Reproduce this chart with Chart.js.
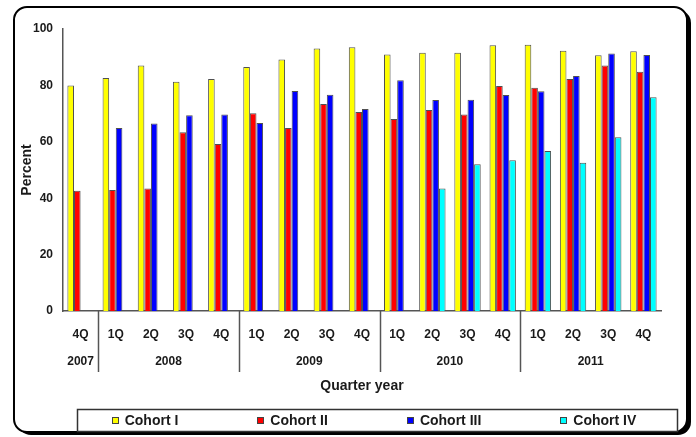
<!DOCTYPE html>
<html>
<head>
<meta charset="utf-8">
<script src="https://cdn.jsdelivr.net/npm/chart.js@4/dist/chart.umd.min.js"></script>
<style>
  html, body { margin: 0; padding: 0; background: #ffffff; }
  #wrap { width: 696px; height: 437px; }
</style>
</head>
<body>
<div id="wrap"><canvas id="c" width="696" height="437"></canvas></div>
<script>
// Quarter labels on the first axis row, year groups on the second row
const quarters = ['4Q', '1Q', '2Q', '3Q', '4Q', '1Q', '2Q', '3Q', '4Q', '1Q', '2Q', '3Q', '4Q', '1Q', '2Q', '3Q', '4Q'];
const years = ['2007', '2008', '2009', '2010', '2011'];
const yearSpans = [1, 4, 4, 4, 4];

// Percent per cohort and quarter
const cohortI   = [80.0, 82.6, 87.1, 81.3, 82.3, 86.5, 89.2, 93.1, 93.5, 91.0, 91.6, 91.6, 94.2, 94.4, 92.3, 90.7, 92.1];
const cohortII  = [42.6, 42.9, 43.4, 63.4, 59.2, 70.1, 64.9, 73.4, 70.6, 68.1, 71.3, 69.7, 79.8, 79.2, 82.3, 87.1, 84.8];
const cohortIII = [null, 64.9, 66.5, 69.4, 69.7, 66.7, 78.0, 76.7, 71.6, 81.8, 74.8, 74.9, 76.6, 77.9, 83.3, 91.3, 90.8];
const cohortIV  = [null, null, null, null, null, null, null, null, null, null, 43.4, 52.0, 53.5, 56.7, 52.6, 61.6, 75.8];

const yTicks = [0, 20, 40, 60, 80, 100];

const FONT = "'Liberation Sans', Arial, sans-serif";
const AXIS_COLOR = '#555555';
const TEXT_COLOR = '#1a1a1a';

function roundRect(ctx, x, y, w, h, r) {
  ctx.beginPath();
  ctx.moveTo(x + r, y);
  ctx.lineTo(x + w - r, y);
  ctx.arcTo(x + w, y, x + w, y + r, r);
  ctx.lineTo(x + w, y + h - r);
  ctx.arcTo(x + w, y + h, x + w - r, y + h, r);
  ctx.lineTo(x + r, y + h);
  ctx.arcTo(x, y + h, x, y + h - r, r);
  ctx.lineTo(x, y + r);
  ctx.arcTo(x, y, x + r, y, r);
  ctx.closePath();
}

// Rounded frame with a dark drop edge, drawn under everything
const framePlugin = {
  id: 'frame',
  beforeDraw(chart) {
    const ctx = chart.ctx;
    ctx.save();
    ctx.fillStyle = '#ffffff';
    ctx.fillRect(0, 0, chart.width, chart.height);
    roundRect(ctx, 18, 10, 673, 425, 13);
    ctx.fillStyle = '#000000';
    ctx.fill();
    roundRect(ctx, 14, 7, 673, 425, 13);
    ctx.fillStyle = '#ffffff';
    ctx.fill();
    ctx.lineWidth = 2;
    ctx.strokeStyle = '#000000';
    ctx.stroke();
    ctx.restore();
  }
};

// Year groups, separators, axis titles and the boxed legend
const decorPlugin = {
  id: 'decor',
  afterDraw(chart) {
    const ctx = chart.ctx;
    const xs = chart.scales.x;
    const area = chart.chartArea;
    const step = xs.getPixelForValue(1) - xs.getPixelForValue(0);
    ctx.save();

    // separators between years and year labels
    ctx.strokeStyle = AXIS_COLOR;
    ctx.lineWidth = 1.5;
    ctx.fillStyle = TEXT_COLOR;
    ctx.font = 'bold 12px ' + FONT;
    ctx.textAlign = 'center';
    ctx.textBaseline = 'middle';
    let start = 0;
    years.forEach((yr, i) => {
      const span = yearSpans[i];
      const first = xs.getPixelForValue(start);
      const last = xs.getPixelForValue(start + span - 1);
      ctx.fillText(yr, (first + last) / 2, 362);
      if (i > 0) {
        const sx = Math.round(first - step / 2) + 0.5;
        ctx.beginPath();
        ctx.moveTo(sx, area.bottom);
        ctx.lineTo(sx, 372);
        ctx.stroke();
      }
      start += span;
    });

    // axis titles
    ctx.font = 'bold 14px ' + FONT;
    ctx.fillText('Quarter year', (area.left + area.right) / 2, 386);
    ctx.save();
    ctx.translate(27, (area.top + area.bottom) / 2);
    ctx.rotate(-Math.PI / 2);
    ctx.fillText('Percent', 0, 0);
    ctx.restore();

    // legend box
    const box = { x: 77.5, y: 409.5, w: 600, h: 22 };
    ctx.fillStyle = '#ffffff';
    ctx.fillRect(box.x, box.y, box.w, box.h);
    ctx.strokeStyle = '#333333';
    ctx.lineWidth = 1.5;
    ctx.strokeRect(box.x, box.y, box.w, box.h);

    ctx.font = 'bold 14px ' + FONT;
    ctx.textAlign = 'left';
    const sq = 7, gapText = 6, gapItem = 79;
    const items = chart.data.datasets.map(ds => ({
      label: ds.label,
      color: ds.backgroundColor,
      w: sq + gapText + ctx.measureText(ds.label).width
    }));
    const total = items.reduce((s, it) => s + it.w, 0) + gapItem * (items.length - 1);
    let x = 374 - total / 2;
    const cy = 420.5;
    items.forEach(it => {
      ctx.fillStyle = it.color;
      ctx.fillRect(Math.round(x), Math.round(cy - sq / 2), sq, sq);
      ctx.strokeStyle = '#444444';
      ctx.lineWidth = 1;
      ctx.strokeRect(Math.round(x) + 0.5, Math.round(cy - sq / 2) + 0.5, sq - 1, sq - 1);
      ctx.fillStyle = TEXT_COLOR;
      ctx.fillText(it.label, x + sq + gapText, cy + 0.5);
      x += it.w + gapItem;
    });

    ctx.restore();
  }
};

const barStyle = {
  borderColor: '#505050',
  borderWidth: 1,
  categoryPercentage: 0.75,
  barPercentage: 1.0
};

new Chart(document.getElementById('c'), {
  type: 'bar',
  data: {
    labels: quarters,
    datasets: [
      Object.assign({ label: 'Cohort I',   data: cohortI,   backgroundColor: '#ffff00' }, barStyle),
      Object.assign({ label: 'Cohort II',  data: cohortII,  backgroundColor: '#ff0000' }, barStyle),
      Object.assign({ label: 'Cohort III', data: cohortIII, backgroundColor: '#0000ff' }, barStyle),
      Object.assign({ label: 'Cohort IV',  data: cohortIV,  backgroundColor: '#00ffff' }, barStyle)
    ]
  },
  options: {
    responsive: false,
    animation: false,
    devicePixelRatio: 1,
    layout: { padding: { top: 29, right: 35, bottom: 0, left: 0 } },
    plugins: {
      legend: { display: false },
      tooltip: { enabled: false },
      title: { display: false }
    },
    scales: {
      x: {
        grid: { display: false, drawTicks: false },
        border: { display: true, color: AXIS_COLOR, width: 1.5 },
        ticks: {
          autoSkip: false,
          maxRotation: 0,
          padding: 16,
          color: TEXT_COLOR,
          font: { family: FONT, size: 12, weight: 'bold' }
        },
        afterFit(scale) { scale.height = 126; }
      },
      y: {
        min: 0,
        max: 100,
        afterBuildTicks(scale) { scale.ticks = yTicks.map(v => ({ value: v })); },
        grid: { display: false, drawTicks: false },
        border: { display: true, color: AXIS_COLOR, width: 1.5 },
        ticks: {
          padding: 10,
          color: TEXT_COLOR,
          font: { family: FONT, size: 12, weight: 'bold' }
        },
        afterFit(scale) { scale.width = 63; }
      }
    }
  },
  plugins: [framePlugin, decorPlugin]
});
</script>
</body>
</html>
